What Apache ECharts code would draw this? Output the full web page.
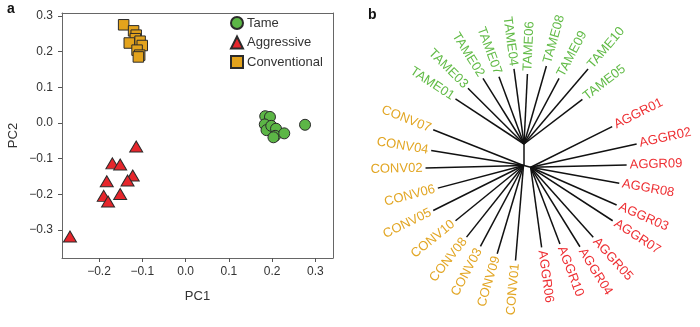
<!DOCTYPE html>
<html>
<head>
<meta charset="utf-8">
<script src="https://cdn.jsdelivr.net/npm/echarts@6/dist/echarts.min.js"></script>
<style>
  html, body { margin: 0; padding: 0; background: #fff; }
  #chart { width: 700px; height: 327px; }
</style>
</head>
<body>
<div id="chart"></div>
<script>
// ---- Panel a: PCA scores ----
const tamePC = [
  [0.184, 0.019], [0.195, 0.017], [0.183, -0.004], [0.187, -0.020], [0.198, -0.008],
  [0.209, -0.016], [0.207, -0.036], [0.203, -0.040], [0.228, -0.029], [0.276, -0.005]
];
const aggrPC = [
  [-0.114, -0.066], [-0.169, -0.113], [-0.151, -0.116], [-0.122, -0.147], [-0.134, -0.161],
  [-0.182, -0.163], [-0.151, -0.199], [-0.189, -0.204], [-0.179, -0.220], [-0.267, -0.318]
];
const convPC = [
  [-0.143, 0.275], [-0.120, 0.258], [-0.114, 0.246], [-0.116, 0.236], [-0.130, 0.224],
  [-0.105, 0.229], [-0.100, 0.217], [-0.112, 0.204], [-0.106, 0.190], [-0.109, 0.185]
];
const pcTicks = [-0.3, -0.2, -0.1, 0.0, 0.1, 0.2, 0.3];
const pc1Range = [-0.2854, 0.3406];
const pc2Range = [-0.378, 0.308];

// ---- Panel b: neighbour-joining tree (angle in degrees, branch length) ----
const tameStem = { angle: 90, length: 21.5 };
const aggrStem = { angle: -15, length: 6.9 };
const convStem = { angle: 180, length: 0.5 };

const tameNames   = ['TAME01','TAME03','TAME02','TAME07','TAME04','TAME06','TAME08','TAME09','TAME10','TAME05'];
const tameAngles  = [146.7, 135.2, 122.0, 110.4, 97.6, 87.2, 74.0, 61.9, 49.5, 37.4];
const tameLengths = [82.0, 79.0, 77.4, 71.8, 75.7, 70.1, 81.2, 74.4, 98.6, 73.5];

const convNames   = ['CONV07','CONV04','CONV02','CONV06','CONV05','CONV10','CONV08','CONV03','CONV09','CONV01'];
const convAngles  = [158.4, 170.8, 181.5, 194.8, 206.5, 219.1, 231.5, 242.0, 253.4, 265.2];
const convLengths = [97.1, 93.5, 98.0, 88.6, 100.9, 87.6, 91.5, 91.7, 92.1, 95.3];

const aggrNames   = ['AGGR01','AGGR02','AGGR09','AGGR08','AGGR03','AGGR07','AGGR05','AGGR04','AGGR10','AGGR06'];
const aggrAngles  = [26.5, 12.4, 1.4, -10.2, -23.7, -33.1, -48.2, -58.2, -69.1, -82.2];
const aggrLengths = [91.1, 108.5, 96.0, 90.0, 93.9, 97.9, 93.9, 93.5, 82.1, 80.8];

const COLORS = { tame: '#5cb646', aggr: '#e6262c', conv: '#e3a31c' };
const LABEL_COLORS = { tame: '#62bb47', aggr: '#ee2f33', conv: '#e2a624' };

// build branch list: [x0, y0, x1, y1], plus label info
const branches = [];
const branchInfo = [];
function step(from, angleDeg, len) {
  const a = angleDeg * Math.PI / 180;
  return [from[0] + len * Math.cos(a), from[1] + len * Math.sin(a)];
}
const root = [0, 0];
function addClade(stem, names, angles, lengths, group) {
  const node = step(root, stem.angle, stem.length);
  branches.push([root[0], root[1], node[0], node[1]]);
  branchInfo.push(null);
  names.forEach((n, i) => {
    const tip = step(node, angles[i], lengths[i]);
    branches.push([node[0], node[1], tip[0], tip[1]]);
    branchInfo.push({ name: n, group: group });
  });
}
addClade(tameStem, tameNames, tameAngles, tameLengths, 'tame');
addClade(convStem, convNames, convAngles, convLengths, 'conv');
addClade(aggrStem, aggrNames, aggrAngles, aggrLengths, 'aggr');

const FONT = '"Liberation Sans", Arial, Helvetica, sans-serif';

const chart = echarts.init(document.getElementById('chart'), null, { renderer: 'canvas' });

const scatterBase = {
  type: 'scatter',
  xAxisIndex: 0, yAxisIndex: 0,
  itemStyle: { borderColor: '#2b2b2b', borderWidth: 1, opacity: 1 },
  emphasis: { disabled: true }
};

const pcLabel = v => (v < 0 ? '\u2212' : '') + Math.abs(v).toFixed(1);
const axisGray = '#666';
const frameLine = { show: true, onZero: false, lineStyle: { color: axisGray, width: 1 } };
const pcTick = { show: true, inside: false, length: 4, customValues: pcTicks, lineStyle: { color: '#555', width: 1 } };

chart.setOption({
  animation: false,
  textStyle: { fontFamily: FONT },
  graphic: [
    { type: 'text', left: 7, top: 2, style: { text: 'a', font: 'bold 14px ' + FONT, fill: '#111' } },
    { type: 'text', left: 368, top: 8, style: { text: 'b', font: 'bold 14px ' + FONT, fill: '#111' } }
  ],
  legend: {
    orient: 'vertical',
    left: 230, top: 16, padding: 0,
    itemWidth: 12, itemHeight: 12, itemGap: 5.5,
    textStyle: { fontSize: 13, color: '#333', fontFamily: FONT, padding: [0, 0, 0, -1] },
    data: ['Tame', 'Aggressive', 'Conventional']
  },
  grid: [
    { left: 62, top: 13, width: 271, height: 245, show: false, containLabel: false },
    { left: 360, top: 0, width: 340, height: 327, show: false }
  ],
  xAxis: [
    {
      gridIndex: 0, type: 'value', position: 'bottom', min: pc1Range[0], max: pc1Range[1],
      name: 'PC1', nameLocation: 'middle', nameGap: 32,
      nameTextStyle: { fontSize: 13, color: '#333', fontFamily: FONT },
      axisLine: frameLine,
      axisTick: pcTick,
      axisLabel: { customValues: pcTicks, fontSize: 12, color: '#333', margin: 8, fontFamily: FONT, formatter: pcLabel },
      splitLine: { show: false }
    },
    { gridIndex: 1, type: 'value', min: -164, max: 176, show: false },
    {
      gridIndex: 0, type: 'value', position: 'top', min: pc1Range[0], max: pc1Range[1],
      axisLine: frameLine, axisTick: { show: false }, axisLabel: { show: false }, splitLine: { show: false }
    }
  ],
  yAxis: [
    {
      gridIndex: 0, type: 'value', position: 'left', min: pc2Range[0], max: pc2Range[1],
      name: 'PC2', nameLocation: 'middle', nameGap: 42,
      nameTextStyle: { fontSize: 13, color: '#333', fontFamily: FONT },
      axisLine: frameLine,
      axisTick: pcTick,
      axisLabel: { customValues: pcTicks, fontSize: 12, color: '#333', margin: 9, fontFamily: FONT, formatter: pcLabel },
      splitLine: { show: false }
    },
    { gridIndex: 1, type: 'value', min: -161.5, max: 165.5, show: false },
    {
      gridIndex: 0, type: 'value', position: 'right', min: pc2Range[0], max: pc2Range[1],
      axisLine: frameLine, axisTick: { show: false }, axisLabel: { show: false }, splitLine: { show: false }
    }
  ],
  series: [
    Object.assign({}, scatterBase, {
      name: 'Conventional', data: convPC, symbol: 'rect', symbolSize: 10.5,
      itemStyle: Object.assign({}, scatterBase.itemStyle, { color: COLORS.conv })
    }),
    Object.assign({}, scatterBase, {
      name: 'Aggressive', data: aggrPC, symbol: 'triangle', symbolSize: [13, 11],
      itemStyle: Object.assign({}, scatterBase.itemStyle, { color: COLORS.aggr })
    }),
    Object.assign({}, scatterBase, {
      name: 'Tame', data: tamePC, symbol: 'circle', symbolSize: 11,
      itemStyle: Object.assign({}, scatterBase.itemStyle, { color: COLORS.tame })
    }),
    {
      type: 'custom',
      xAxisIndex: 1, yAxisIndex: 1,
      data: branches,
      encode: { x: [0, 2], y: [1, 3] },
      silent: true,
      renderItem: function (params, api) {
        const p0 = api.coord([api.value(0), api.value(1)]);
        const p1 = api.coord([api.value(2), api.value(3)]);
        const children = [{
          type: 'line',
          shape: { x1: p0[0], y1: p0[1], x2: p1[0], y2: p1[1] },
          style: { stroke: '#111', lineWidth: 1.5 }
        }];
        const info = branchInfo[params.dataIndex];
        if (info) {
          const dx = p1[0] - p0[0], dy = p1[1] - p0[1];
          const ang = Math.atan2(-dy, dx);
          const len = Math.sqrt(dx * dx + dy * dy);
          const gap = 3;
          const tx = p1[0] + gap * dx / len, ty = p1[1] + gap * dy / len;
          const right = Math.cos(ang) >= 0;
          children.push({
            type: 'text',
            x: tx, y: ty,
            rotation: right ? ang : ang - Math.PI,
            style: {
              text: info.name,
              fill: LABEL_COLORS[info.group],
              font: '13px ' + FONT,
              align: right ? 'left' : 'right',
              verticalAlign: 'middle'
            }
          });
        }
        return { type: 'group', children: children };
      }
    }
  ]
});
</script>
</body>
</html>
